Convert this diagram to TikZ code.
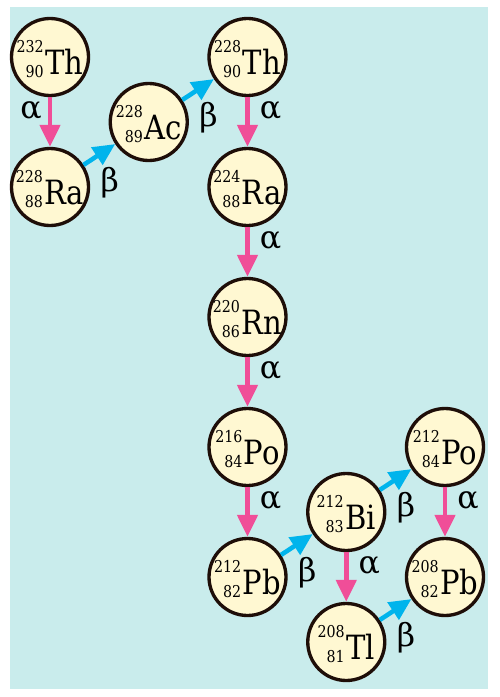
\documentclass[tikz,border=0pt]{standalone}
\usepackage{amsmath, amssymb}
\usepackage{xcolor}
\usepackage{fontspec}
\usepackage{tikz}
\usetikzlibrary{arrows.meta}
\newfontfamily\nucfont[FakeStretch=0.87]{DejaVu Serif}
\newfontfamily\grkfont{DejaVu Serif}

\definecolor{bgcyan}{RGB}{201,236,236}
\definecolor{nucfill}{RGB}{255,248,210}
\definecolor{alphapink}{RGB}{240,78,152}
\definecolor{betablue}{RGB}{0,180,236}
\definecolor{rim}{RGB}{30,14,8}

% mass number over atomic number, then the symbol (zero-size box, so the circle keeps its size)
\newcommand{\nuclide}[3]{%
  \makebox[0pt][c]{\raisebox{-0.34cm}[0pt][0pt]{\nucfont
  {\fontsize{9.3}{11}\selectfont\raisebox{0.44cm}{#1}\llap{\raisebox{-0.06cm}{#2}}}%
  \hspace{0.03cm}{\fontsize{19}{22}\selectfont #3}}}}

\tikzset{
  nuc/.style={circle, draw=rim, fill=nucfill, line width=1.9pt, minimum size=1.54cm, inner sep=0pt},
  adecay/.style={-{Triangle[length=0.44cm, width=0.4cm]}, line width=2.6pt, alphapink},
  bdecay/.style={-{Triangle[length=0.44cm, width=0.4cm]}, line width=2.6pt, betablue},
  dlabel/.style={font=\grkfont\fontsize{18}{20}\selectfont, inner sep=0pt, text=black}
}

\begin{document}
\begin{tikzpicture}
    \useasboundingbox (0,0) rectangle (10,-13.94);
    \fill[bgcyan] (0.2,-0.14) rectangle (9.76,-13.78);
    % nuclides
    \node[nuc] (th232) at (1.0,-1.14) {\nuclide{232}{90}{Th}};
    \node[nuc] (ra228) at (1.0,-3.74) {\nuclide{228}{88}{Ra}};
    \node[nuc] (ac228) at (2.975,-2.44) {\nuclide{228}{89}{Ac}};
    \node[nuc] (th228) at (4.95,-1.14) {\nuclide{228}{90}{Th}};
    \node[nuc] (ra224) at (4.95,-3.74) {\nuclide{224}{88}{Ra}};
    \node[nuc] (rn220) at (4.95,-6.34) {\nuclide{220}{86}{Rn}};
    \node[nuc] (po216) at (4.95,-8.94) {\nuclide{216}{84}{Po}};
    \node[nuc] (pb212) at (4.95,-11.54) {\nuclide{212}{82}{Pb}};
    \node[nuc] (bi212) at (6.925,-10.24) {\nuclide{212}{83}{Bi}};
    \node[nuc] (tl208) at (6.925,-12.84) {\nuclide{208}{81}{Tl}};
    \node[nuc] (po212) at (8.9,-8.94) {\nuclide{212}{84}{Po}};
    \node[nuc] (pb208) at (8.9,-11.54) {\nuclide{208}{82}{Pb}};
    % alpha decays
    \draw[adecay] (th232) -- (ra228) node[dlabel, pos=0.28, left=0.12cm] {α};
    \draw[adecay] (th228) -- (ra224) node[dlabel, pos=0.28, right=0.2cm] {α};
    \draw[adecay] (ra224) -- (rn220) node[dlabel, pos=0.28, right=0.2cm] {α};
    \draw[adecay] (rn220) -- (po216) node[dlabel, pos=0.28, right=0.2cm] {α};
    \draw[adecay] (po216) -- (pb212) node[dlabel, pos=0.28, right=0.2cm] {α};
    \draw[adecay] (bi212) -- (tl208) node[dlabel, pos=0.28, right=0.2cm] {α};
    \draw[adecay] (po212) -- (pb208) node[dlabel, pos=0.28, right=0.2cm] {α};
    % beta decays
    \draw[bdecay] (ra228) -- (ac228) node[dlabel, midway, xshift=0.21cm, yshift=-0.56cm] {β};
    \draw[bdecay] (ac228) -- (th228) node[dlabel, midway, xshift=0.21cm, yshift=-0.56cm] {β};
    \draw[bdecay] (pb212) -- (bi212) node[dlabel, midway, xshift=0.21cm, yshift=-0.56cm] {β};
    \draw[bdecay] (bi212) -- (po212) node[dlabel, midway, xshift=0.21cm, yshift=-0.56cm] {β};
    \draw[bdecay] (tl208) -- (pb208) node[dlabel, midway, xshift=0.21cm, yshift=-0.56cm] {β};
\end{tikzpicture}
\end{document}
